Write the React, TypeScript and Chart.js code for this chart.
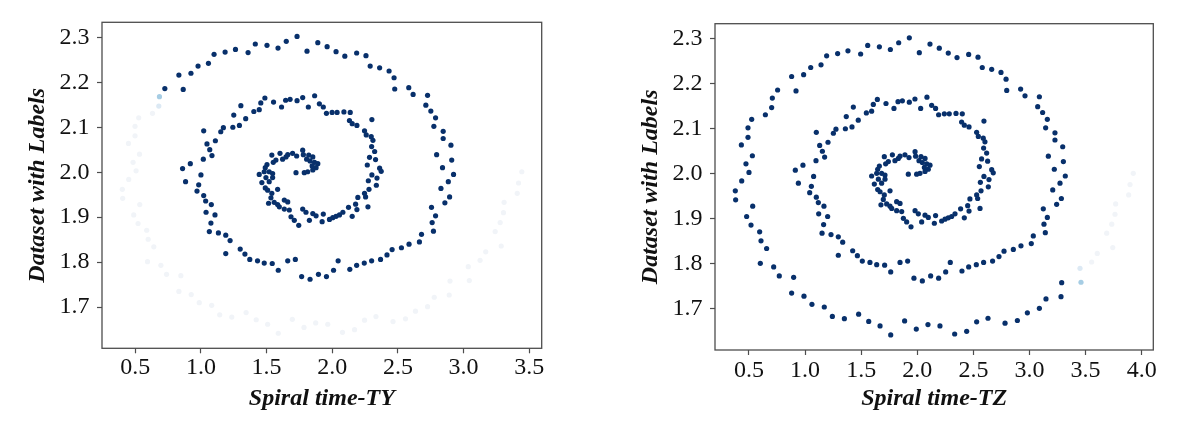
import { useEffect, useRef } from "react";
import { Chart, registerables } from "chart.js";

Chart.register(...registerables);

// ---------------- data ----------------
// Segment 1: points dark in both panels (core, inner loops, outer top arc)
const innerY = [
  2.291, 2.276, 2.282, 2.285, 2.266, 2.273, 2.267, 2.262, 2.242, 2.236, 2.220, 2.216, 2.184, 2.186,
  2.165, 2.154, 2.156, 2.145, 2.160, 2.162, 2.148, 2.127, 2.135, 2.139, 2.119, 2.104, 2.100, 2.099, 2.090, 2.070, 2.092, 2.063, 2.050, 2.037, 2.029, 2.019, 2.008, 1.994, 1.979, 1.972,
  2.302, 2.269, 2.288, 2.279, 2.268, 2.258, 2.265, 2.259, 2.236, 2.232,
  2.159, 2.166, 2.170, 2.145, 2.152, 2.145, 2.131, 2.133, 2.133, 2.134, 2.133, 2.115, 2.108, 2.104, 2.117, 2.092, 2.083, 2.079, 2.071, 2.057, 2.046, 2.033, 2.028, 2.016, 1.994, 1.987, 1.981, 2.009, 2.002,
  2.225, 2.210, 2.185, 2.188, 2.173, 2.171, 2.149, 2.136, 2.121, 2.102, 2.091, 2.075, 2.060, 2.039, 2.027, 2.010, 1.995, 1.979, 1.964, 1.945, 1.932, 1.922, 1.903, 1.888, 1.869, 1.862, 1.845, 1.840, 1.832, 1.828, 1.816,
  1.907, 1.895, 1.899, 1.902, 1.905, 1.911, 1.922, 1.902, 1.929, 1.917, 1.944, 1.953, 1.945, 1.923, 1.962, 1.971, 1.890,
  1.806, 1.803, 1.798, 1.793, 1.784, 1.803, 1.782, 1.768, 1.773, 1.762, 1.768, 1.806, 1.803,
  1.958, 1.948, 1.936, 1.928, 1.911, 1.905, 1.887, 1.868, 1.865, 1.848, 1.819, 1.829, 1.818, 1.806, 1.803, 1.798, 1.797, 1.782,
  2.038, 2.042, 2.039, 2.042, 2.036, 2.049, 2.039, 2.038, 2.034, 2.029, 2.025, 2.022, 2.019, 2.014, 2.010, 2.005, 2.001, 1.999, 1.999, 2.034, 2.029, 2.027, 2.022, 2.017, 2.010, 2.001, 1.995, 2.001, 1.997, 1.988, 1.977, 1.979, 1.988, 1.965, 1.960, 1.953, 1.962, 1.943, 1.931, 1.933, 1.928, 1.938, 1.934, 1.923, 1.916, 1.918, 1.901, 1.893, 1.882, 1.918, 1.911, 1.908, 1.893, 1.903, 1.860,
];
const innerTZ = [
  1.834, 1.760, 1.662, 1.558, 1.495, 1.382, 1.290, 1.192, 1.142, 1.050, 0.987, 0.880, 0.919, 0.755,
  1.644, 1.608, 1.721, 1.792, 1.828, 1.867, 1.430, 1.367, 1.546, 1.593, 1.474, 1.418, 1.359, 1.275, 1.252, 1.204, 1.100, 1.130, 1.154, 1.174, 1.097, 0.981, 0.913, 1.076, 0.940, 1.056,
  1.929, 2.018, 2.113, 2.196, 2.276, 2.354, 2.458, 2.541, 2.579, 2.663,
  1.929, 1.979, 2.086, 2.030, 2.128, 2.163, 2.190, 2.241, 2.285, 2.345, 2.401, 2.395, 2.419, 2.461, 2.594, 2.529, 2.544, 2.588, 2.603, 2.591, 2.618, 2.573, 2.627, 2.553, 2.594, 2.639, 2.562, 2.663, 2.677,
  2.746, 2.791, 2.797, 2.921, 2.960, 3.088, 3.073, 3.117, 3.159, 3.144, 3.227, 3.227, 3.296, 3.168, 3.302, 3.221, 3.319, 3.272, 3.207, 3.284, 3.242, 3.123, 3.159, 3.129, 3.141, 3.034, 3.016, 2.924, 2.856, 2.773, 2.728,
  2.163, 2.217, 2.247, 2.276, 2.306, 2.336, 2.386, 2.419, 2.449, 2.461, 2.469, 2.529, 2.538, 2.559, 2.568, 2.633, 2.152,
  2.671, 2.591, 2.526, 2.458, 2.398, 2.294, 2.253, 2.190, 2.119, 2.045, 1.970, 1.914, 1.846,
  1.041, 1.100, 1.118, 1.168, 1.121, 1.201, 1.165, 1.151, 1.231, 1.335, 1.296, 1.424, 1.466, 1.510, 1.578, 1.638, 1.709, 1.763,
  1.706, 1.778, 1.846, 1.890, 1.926, 1.980, 1.985, 2.033, 2.069, 2.015, 2.045, 2.084, 2.113, 2.063, 2.098, 2.069, 2.024, 1.994, 1.920, 1.831, 1.801, 1.742, 1.718, 1.662, 1.647, 1.638, 1.593, 1.682, 1.712, 1.653, 1.617, 1.682, 1.712, 1.647, 1.668, 1.706, 1.757, 1.697, 1.676, 1.727, 1.757, 1.816, 1.846, 1.772, 1.861, 1.816, 1.876, 1.905, 1.944, 1.980, 2.009, 2.069, 2.039, 2.098, 1.296,
];
const innerTY = [
  1.650, 1.587, 1.503, 1.414, 1.359, 1.263, 1.184, 1.100, 1.057, 0.978, 0.924, 0.832, 0.865, 0.725,
  1.487, 1.456, 1.553, 1.614, 1.645, 1.679, 1.304, 1.250, 1.403, 1.444, 1.341, 1.293, 1.243, 1.171, 1.151, 1.110, 1.021, 1.046, 1.067, 1.084, 1.018, 0.919, 0.860, 1.000, 0.883, 0.983,
  1.732, 1.808, 1.890, 1.961, 2.029, 2.096, 2.186, 2.257, 2.289, 2.361,
  1.732, 1.775, 1.866, 1.818, 1.902, 1.932, 1.956, 1.999, 2.037, 2.089, 2.137, 2.131, 2.152, 2.188, 2.302, 2.246, 2.259, 2.297, 2.310, 2.300, 2.323, 2.284, 2.330, 2.267, 2.302, 2.341, 2.275, 2.361, 2.373,
  2.433, 2.471, 2.476, 2.583, 2.616, 2.726, 2.713, 2.751, 2.787, 2.774, 2.845, 2.845, 2.904, 2.795, 2.910, 2.840, 2.924, 2.884, 2.828, 2.894, 2.858, 2.756, 2.787, 2.761, 2.771, 2.680, 2.664, 2.585, 2.527, 2.456, 2.417,
  1.932, 1.979, 2.004, 2.029, 2.055, 2.081, 2.124, 2.152, 2.178, 2.188, 2.195, 2.246, 2.254, 2.272, 2.280, 2.336, 1.923,
  2.368, 2.300, 2.244, 2.186, 2.134, 2.045, 2.010, 1.956, 1.895, 1.831, 1.767, 1.719, 1.661,
  0.970, 1.021, 1.036, 1.079, 1.039, 1.107, 1.076, 1.064, 1.133, 1.222, 1.189, 1.299, 1.335, 1.372, 1.431, 1.482, 1.543, 1.589,
  1.540, 1.602, 1.661, 1.698, 1.729, 1.775, 1.780, 1.821, 1.852, 1.805, 1.831, 1.865, 1.890, 1.847, 1.877, 1.852, 1.813, 1.787, 1.724, 1.648, 1.622, 1.571, 1.551, 1.503, 1.490, 1.482, 1.444, 1.520, 1.546, 1.495, 1.464, 1.520, 1.546, 1.490, 1.508, 1.540, 1.584, 1.533, 1.515, 1.558, 1.584, 1.635, 1.661, 1.597, 1.673, 1.635, 1.686, 1.711, 1.745, 1.775, 1.800, 1.852, 1.826, 1.877, 1.189,
];

// Segment 2: the TY label boundary point (light blue in TY, dark in TZ)
const tyEdgeY = [2.168];
const tyEdgeTZ = [0.708];
const tyEdgeTY = [0.684];

// Segment 3: outer arm (faded in TY, dark in TZ)
const outerY = [
  2.147, 2.131, 2.121, 2.102, 2.081, 2.064, 2.040, 2.022, 2.003, 1.984,
  1.962, 1.942, 1.928, 1.905, 1.886, 1.871, 1.851, 1.834, 1.801, 1.793, 1.773, 1.770, 1.735, 1.728, 1.710, 1.704, 1.683, 1.678, 1.688, 1.672, 1.662, 1.642,
  1.673, 1.655, 1.665, 1.662, 1.644, 1.650, 1.671, 1.679,
  1.668, 1.674, 1.691, 1.701, 1.722, 1.727, 1.758,
];
const outerTZ = [
  0.702, 0.646, 0.524, 0.491, 0.491, 0.432, 0.530, 0.473, 0.500, 0.435,
  0.378, 0.381, 0.533, 0.479, 0.518, 0.595, 0.607, 0.657, 0.601, 0.720, 0.770, 0.898, 0.880, 0.990, 1.061, 1.171, 1.243, 1.350, 1.477, 1.567, 1.668, 1.763,
  1.887, 1.991, 2.095, 2.202, 2.333, 2.440, 2.529, 2.630,
  2.782, 2.892, 2.981, 3.088, 3.147, 3.281, 3.287,
];
const outerTY = [
  0.679, 0.631, 0.526, 0.498, 0.498, 0.448, 0.532, 0.483, 0.506, 0.450,
  0.401, 0.404, 0.534, 0.488, 0.521, 0.587, 0.598, 0.641, 0.593, 0.695, 0.738, 0.847, 0.832, 0.926, 0.987, 1.082, 1.143, 1.235, 1.344, 1.421, 1.508, 1.589,
  1.696, 1.785, 1.874, 1.966, 2.078, 2.170, 2.246, 2.333,
  2.463, 2.558, 2.634, 2.726, 2.777, 2.891, 2.897,
];

// Segment 4: the TZ label boundary point (light blue in TZ, faded in TY)
const tzEdgeY = [1.759];
const tzEdgeTZ = [3.459];
const tzEdgeTY = [3.044];

// Segment 5: tail (faded in both)
const tailY = [1.790, 1.804, 1.823, 1.836, 1.868, 1.888, 1.910, 1.933, 1.953, 1.976, 2.001];
const tailTZ = [3.450, 3.554, 3.604, 3.742, 3.688, 3.733, 3.762, 3.768, 3.884, 3.896, 3.925];
const tailTY = [3.036, 3.126, 3.169, 3.287, 3.241, 3.279, 3.304, 3.309, 3.409, 3.419, 3.444];

const tyTicks = [0.5, 1.0, 1.5, 2.0, 2.5, 3.0, 3.5];
const tzTicks = [0.5, 1.0, 1.5, 2.0, 2.5, 3.0, 3.5, 4.0];
const yTicks = [1.7, 1.8, 1.9, 2.0, 2.1, 2.2, 2.3];

const yLabel = "Dataset with Labels";
const tyTitle = "Spiral time-TY";
const tzTitle = "Spiral time-TZ";

// ---------------- styling ----------------
const SERIF = "'Liberation Serif', 'Times New Roman', 'DejaVu Serif', serif";
const DARK = "#08306b";
const LIGHT = "#a6cde4";
const PALE1 = "#dce9f4";
const PALE = "#f1f4f8";
const FRAME = "#4d4d4d";

type P = { x: number; y: number };
const zip = (xs: number[], ys: number[]): P[] => {
  const n = Math.min(xs.length, ys.length);
  const out: P[] = [];
  for (let i = 0; i < n; i++) out.push({ x: xs[i], y: ys[i] });
  return out;
};

const framePlugin = {
  id: "frameBox",
  afterDatasetsDraw(chart: any) {
    const { ctx, chartArea: a } = chart;
    ctx.save();
    ctx.strokeStyle = FRAME;
    ctx.lineWidth = 1.3;
    ctx.strokeRect(a.left, a.top, a.right - a.left, a.bottom - a.top);
    ctx.restore();
  },
};

function ds(data: P[], colors: string | string[]) {
  return {
    data,
    pointRadius: 2.6,
    pointHoverRadius: 2.6,
    pointBorderWidth: 0,
    borderWidth: 0,
    pointBackgroundColor: colors,
    backgroundColor: colors,
    showLine: false,
  };
}

function config(o: {
  datasets: any[];
  ticks: number[];
  xMin: number;
  xMax: number;
  title: string;
  topPad: number;
  rightPad: number;
  xAxisH: number;
  titlePadBottom: number;
  tickPadX: number;
}) {
  return {
    type: "scatter" as const,
    data: { datasets: o.datasets },
    plugins: [framePlugin],
    options: {
      animation: false as const,
      responsive: false,
      events: [],
      layout: { padding: { top: o.topPad, right: o.rightPad, left: 0, bottom: 0 } },
      plugins: { legend: { display: false }, tooltip: { enabled: false } },
      scales: {
        x: {
          type: "linear" as const,
          min: o.xMin,
          max: o.xMax,
          afterBuildTicks: (s: any) => {
            s.ticks = o.ticks.map((v) => ({ value: v }));
          },
          afterFit: (s: any) => {
            s.height = o.xAxisH;
          },
          ticks: {
            autoSkip: false,
            maxRotation: 0,
            padding: o.tickPadX,
            color: "#111",
            font: { family: SERIF, size: 24, lineHeight: 1.2 },
            callback: (v: any) => Number(v).toFixed(1),
          },
          grid: {
            drawOnChartArea: false,
            drawTicks: true,
            tickLength: 5,
            tickWidth: 1.2,
            tickColor: FRAME,
          },
          border: { display: false },
          title: {
            display: true,
            text: o.title,
            color: "#111",
            font: { family: SERIF, size: 24, weight: "bold", style: "italic", lineHeight: 1.2 },
            padding: { top: 0, bottom: o.titlePadBottom },
          },
        },
        y: {
          type: "linear" as const,
          min: 1.6085,
          max: 2.3333,
          afterBuildTicks: (s: any) => {
            s.ticks = yTicks.map((v) => ({ value: v }));
          },
          afterFit: (s: any) => {
            s.width = 102;
          },
          ticks: {
            autoSkip: false,
            padding: 7.5,
            color: "#111",
            font: { family: SERIF, size: 24, lineHeight: 1.2 },
            callback: (v: any) => Number(v).toFixed(1),
          },
          grid: {
            drawOnChartArea: false,
            drawTicks: true,
            tickLength: 5,
            tickWidth: 1.2,
            tickColor: FRAME,
          },
          border: { display: false },
          title: {
            display: true,
            text: yLabel,
            color: "#111",
            font: { family: SERIF, size: 24, weight: "bold", style: "italic", lineHeight: 1.2 },
            padding: { top: 23.6, bottom: 0 },
          },
        },
      },
    },
  };
}

export default function App() {
  const leftRef = useRef<HTMLCanvasElement>(null);
  const rightRef = useRef<HTMLCanvasElement>(null);

  useEffect(() => {
    document.body.style.margin = "0";
    const charts: Chart[] = [];

    // TY panel: dark inner, light boundary, faded outer arm + tail
    const tyFaded = [
      ...zip(outerTY, outerY),
      ...zip(tzEdgeTY, tzEdgeY),
      ...zip(tailTY, tailY),
    ];
    const tyFadedColors = tyFaded.map((_, i) => (i === 0 ? PALE1 : PALE));
    if (leftRef.current) {
      charts.push(
        new Chart(
          leftRef.current,
          config({
            datasets: [
              ds(tyFaded, tyFadedColors),
              ds(zip(tyEdgeTY, tyEdgeY), LIGHT),
              ds(zip(innerTY, innerY), DARK),
            ],
            ticks: tyTicks,
            xMin: 0.2464,
            xMax: 3.5954,
            title: tyTitle,
            topPad: 22.3,
            rightPad: 593 - 541.7,
            xAxisH: 438 - 348.3,
            titlePadBottom: 24.6,
            tickPadX: 0.5,
          }) as any
        )
      );
    }

    // TZ panel: dark up to the boundary, light boundary, faded tail
    const tzDark = [
      ...zip(innerTZ, innerY),
      ...zip(tyEdgeTZ, tyEdgeY),
      ...zip(outerTZ, outerY),
    ];
    const tzFaded = zip(tailTZ, tailY);
    const tzFadedColors = tzFaded.map((_, i) => (i === 0 ? PALE1 : PALE));
    if (rightRef.current) {
      charts.push(
        new Chart(
          rightRef.current,
          config({
            datasets: [
              ds(tzFaded, tzFadedColors),
              ds(zip(tzEdgeTZ, tzEdgeY), LIGHT),
              ds(tzDark, DARK),
            ],
            ticks: tzTicks,
            xMin: 0.197,
            xMax: 4.1034,
            title: tzTitle,
            topPad: 23.7,
            rightPad: 573 - (1153.3 - 613),
            xAxisH: 438 - 350,
            titlePadBottom: 24.6,
            tickPadX: 1,
          }) as any
        )
      );
    }

    return () => {
      charts.forEach((c) => c.destroy());
    };
  }, []);

  return (
    <div
      style={{
        position: "absolute",
        left: 0,
        top: 0,
        width: 1186,
        height: 438,
        background: "#ffffff",
        overflow: "hidden",
      }}
    >
      <canvas
        ref={leftRef}
        width={593}
        height={438}
        style={{ position: "absolute", left: 0, top: 0, width: 593, height: 438 }}
      />
      <canvas
        ref={rightRef}
        width={573}
        height={438}
        style={{ position: "absolute", left: 613, top: 0, width: 573, height: 438 }}
      />
    </div>
  );
}
